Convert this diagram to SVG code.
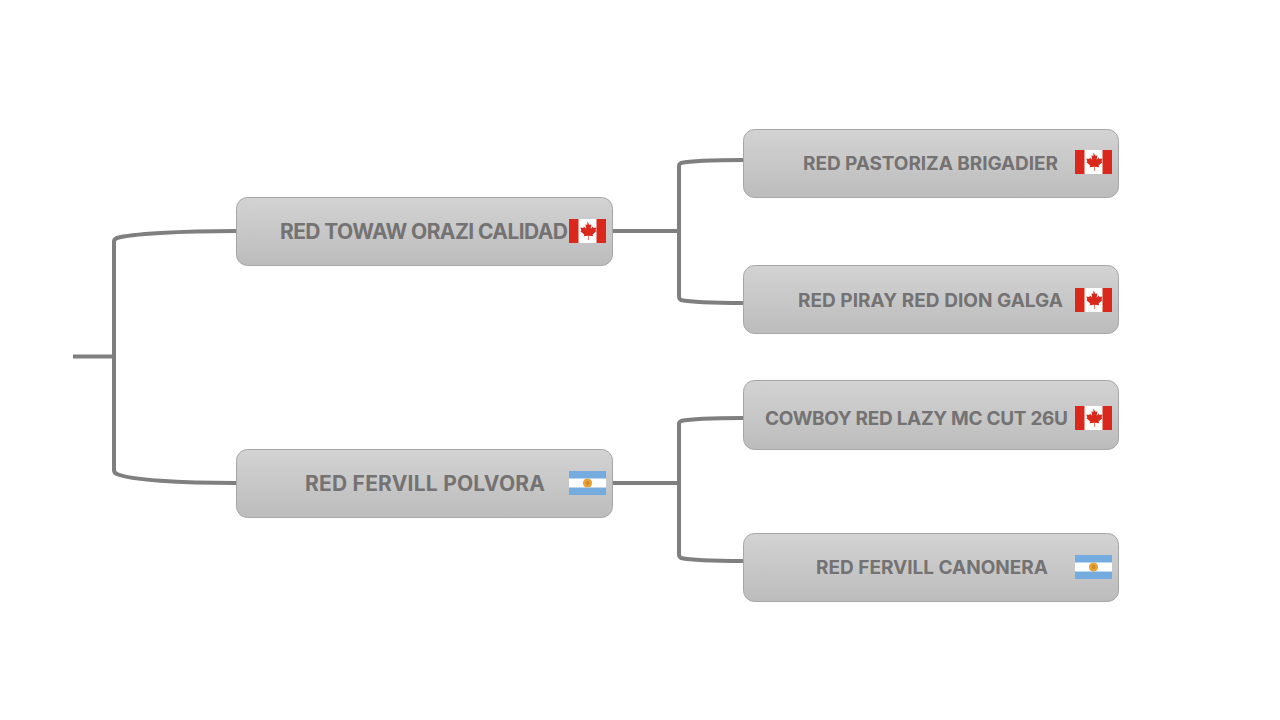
<svg xmlns="http://www.w3.org/2000/svg" width="1280" height="720" viewBox="0 0 1280 720">
<style>
.box{fill:url(#g);stroke:#a6a6a6;stroke-width:1}
.lbl{font-family:Inter,"Liberation Sans",sans-serif;font-weight:700;fill:#747272}
.s{font-size:19px}.b{font-size:21px}
.con{fill:none;stroke:#7f7f7f;stroke-width:4}
</style>
<defs>
<linearGradient id="g" x1="0" y1="0" x2="0" y2="1"><stop offset="0" stop-color="#d3d3d3"/><stop offset="1" stop-color="#bcbcbc"/></linearGradient>
<g id="ca"><rect width="37" height="24" fill="#fff"/><rect width="9.500" height="24" fill="#da291c"/><rect x="27.500" width="9.500" height="24" fill="#da291c"/>
<path fill="#da291c" d="M18.500 2.600l2 3.500 1.800-.8-.6 4.500 2.200-2.200.6 1.500 2.900-.5-.9 2.900 1.100.6-4 3.400.5 1.800-4.300-.5-.1.100v4h-.6v-4l-.1-.1-4.300.5.5-1.800-4-3.400 1.100-.6-.9-2.900 2.900.5.600-1.500 2.200 2.200-.6-4.500 1.800.8z"/></g>
<g id="ar"><rect width="37" height="24" fill="#fff"/><rect width="37" height="7.500" fill="#74acdf"/><rect y="16.500" width="37" height="7.500" fill="#74acdf"/><circle cx="18.500" cy="12" r="4.600" fill="#e8a33a"/><circle cx="18.500" cy="12" r="2" fill="#d68a1f"/></g>
</defs>
<rect width="1280" height="720" fill="#fff"/>
<g id="connectors" class="con">
<path d="M73 356.500H114"/>
<path d="M236 231C180 231 130 234 117 238Q114 239 114 242V470Q114 473 117 474C130 480 180 483 236 483"/>
<path d="M612 231H679"/>
<path d="M743 160C710 160 690 161 681 163Q679 164 679 166V296Q679 299 681 300C690 302 710 303 743 303"/>
<path d="M612 483H679"/>
<path d="M743 418C710 418 690 419 681 421Q679 422 679 424V554Q679 557 681 558C690 560 710 561 743 561"/>
</g>
<g id="n1"><rect class="box" x="236.500" y="197.500" width="376" height="68" rx="11"/><text class="lbl b" x="280" y="238.500" textLength="288">RED TOWAW ORAZI CALIDAD</text><use href="#ca" x="569" y="219"/></g>
<g id="n2"><rect class="box" x="236.500" y="449.500" width="376" height="68" rx="11"/><text class="lbl b" x="305" y="490.500" textLength="240">RED FERVILL POLVORA</text><use href="#ar" x="569" y="471"/></g>
<g id="n3"><rect class="box" x="743.500" y="129.500" width="375" height="68" rx="11"/><text class="lbl s" x="803" y="170" textLength="255">RED PASTORIZA BRIGADIER</text><use href="#ca" x="1075" y="150"/></g>
<g id="n4"><rect class="box" x="743.500" y="265.500" width="375" height="68" rx="11"/><text class="lbl s" x="798" y="307" textLength="265">RED PIRAY RED DION GALGA</text><use href="#ca" x="1075" y="288"/></g>
<g id="n5"><rect class="box" x="743.500" y="380.500" width="375" height="69" rx="11"/><text class="lbl s" x="765" y="425" textLength="303">COWBOY RED LAZY MC CUT 26U</text><use href="#ca" x="1075" y="406"/></g>
<g id="n6"><rect class="box" x="743.500" y="533.500" width="375" height="68" rx="11"/><text class="lbl s" x="816" y="574" textLength="232">RED FERVILL CANONERA</text><use href="#ar" x="1075" y="555"/></g>
</svg>
